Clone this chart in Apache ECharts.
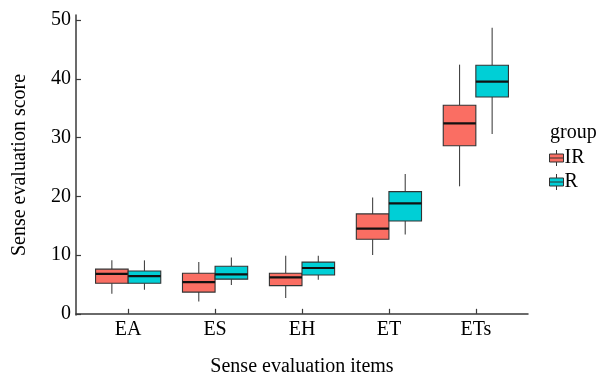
<!DOCTYPE html>
<html>
<head>
    <meta charset="utf-8">
    <title>Sense evaluation boxplot</title>
    <script src="https://cdn.jsdelivr.net/npm/echarts@6.0.0/dist/echarts.min.js"></script>
    <style>
        html, body { margin: 0; padding: 0; background: #fff; }
        #chart { width: 601px; height: 373px; }
    </style>
</head>
<body>
<div id="chart"></div>
<script>
    // categories on the x axis
    const categories = ['EA', 'ES', 'EH', 'ET', 'ETs'];
    const groups = ['IR', 'R'];
    // [min, Q1, median, Q3, max] per category
    const irStats = [
        [3.4, 5.2, 6.8, 7.6, 9.1],
        [2.1, 3.7, 5.4, 6.9, 8.8],
        [2.7, 4.8, 6.2, 6.9, 9.9],
        [10.0, 12.7, 14.5, 17.0, 19.8],
        [21.7, 28.6, 32.4, 35.5, 42.4]
    ];
    const rStats = [
        [4.1, 5.2, 6.4, 7.3, 9.1],
        [4.9, 5.9, 6.7, 8.1, 9.6],
        [5.8, 6.6, 7.8, 8.8, 9.9],
        [13.5, 15.8, 18.8, 20.8, 23.8],
        [30.6, 36.9, 39.5, 42.3, 48.7]
    ];
    const yTicks = [0, 10, 20, 30, 40, 50];
    const xTicks = [1, 2, 3, 4, 5];

    const colors = ['#FA6E63', '#00CFD6'];
    const font = 'Liberation Serif';

    // ggplot-like dodged box: each box takes 0.375 of a category unit
    function renderBox(side) {
        return function (params, api) {
            const cat = api.value(0);
            const band = api.size([1, 0])[0];
            const half = band * 0.1875;
            const cx = api.coord([cat, 0])[0] + side * half;
            const yMin = api.coord([cat, api.value(1)])[1];
            const yQ1 = api.coord([cat, api.value(2)])[1];
            const yMed = api.coord([cat, api.value(3)])[1];
            const yQ3 = api.coord([cat, api.value(4)])[1];
            const yMax = api.coord([cat, api.value(5)])[1];
            return {
                type: 'group',
                children: [
                    { type: 'line', shape: { x1: cx, y1: yMax, x2: cx, y2: yQ3 }, style: { stroke: '#444', lineWidth: 1.1 } },
                    { type: 'line', shape: { x1: cx, y1: yQ1, x2: cx, y2: yMin }, style: { stroke: '#444', lineWidth: 1.1 } },
                    { type: 'rect', shape: { x: cx - half, y: yQ3, width: half * 2, height: yQ1 - yQ3 },
                      style: { fill: api.visual('color'), stroke: '#333', lineWidth: 1.1 } },
                    { type: 'line', shape: { x1: cx - half, y1: yMed, x2: cx + half, y2: yMed }, style: { stroke: '#111', lineWidth: 2.2 } }
                ]
            };
        };
    }

    const toData = stats => stats.map((s, i) => [i + 1].concat(s));

    const chart = echarts.init(document.getElementById('chart'));
    chart.setOption({
        backgroundColor: '#fff',
        animation: false,
        title: {
            text: 'group',
            left: 550,
            top: 123,
            padding: 0,
            textStyle: { fontFamily: font, fontWeight: 'normal', fontSize: 20, color: '#000' }
        },
        legend: {
            orient: 'vertical',
            left: 549,
            top: 148,
            padding: 0,
            itemWidth: 14,
            itemHeight: 16,
            itemGap: 4,
            icon: 'path://M0,4L14,4L14,12L0,12Z M0,8L14,8 M7,0L7,4 M7,12L7,16',
            textStyle: { fontFamily: font, fontSize: 20, color: '#000', padding: [0, 0, 0, -4] },
            data: groups.map((g, i) => ({
                name: g,
                itemStyle: { color: colors[i], borderColor: '#333', borderWidth: 1 }
            }))
        },
        grid: { left: 76, right: 73, top: 15, bottom: 58, containLabel: false, outerBoundsMode: 'none' },
        xAxis: {
            type: 'value',
            min: 0.4,
            max: 5.6,
            name: 'Sense evaluation items',
            nameLocation: 'middle',
            nameGap: 42,
            nameTextStyle: { fontFamily: font, fontSize: 20, color: '#000' },
            splitLine: { show: false },
            axisLine: { lineStyle: { color: '#3a3a3a', width: 1.5 } },
            axisTick: { inside: true, length: 5, customValues: xTicks, lineStyle: { color: '#3a3a3a', width: 1.2 } },
            axisLabel: {
                customValues: xTicks,
                formatter: v => categories[Math.round(v) - 1],
                fontFamily: font, fontSize: 20, color: '#000', margin: 5
            }
        },
        yAxis: {
            type: 'value',
            min: -0.2,
            max: 50.85,
            name: 'Sense evaluation score',
            nameLocation: 'middle',
            nameGap: 46,
            nameTextStyle: { fontFamily: font, fontSize: 20, color: '#000' },
            splitLine: { show: false },
            axisLine: { show: true, lineStyle: { color: '#3a3a3a', width: 1.5 } },
            axisTick: { show: true, inside: true, length: 5, customValues: yTicks, lineStyle: { color: '#3a3a3a', width: 1.2 } },
            axisLabel: { customValues: yTicks, fontFamily: font, fontSize: 20, color: '#000', margin: 5 }
        },
        series: [
            {
                name: groups[0],
                type: 'custom',
                renderItem: renderBox(-1),
                itemStyle: { color: colors[0] },
                encode: { x: 0, y: [1, 2, 3, 4, 5] },
                data: toData(irStats)
            },
            {
                name: groups[1],
                type: 'custom',
                renderItem: renderBox(1),
                itemStyle: { color: colors[1] },
                encode: { x: 0, y: [1, 2, 3, 4, 5] },
                data: toData(rStats)
            }
        ]
    });
</script>
</body>
</html>
